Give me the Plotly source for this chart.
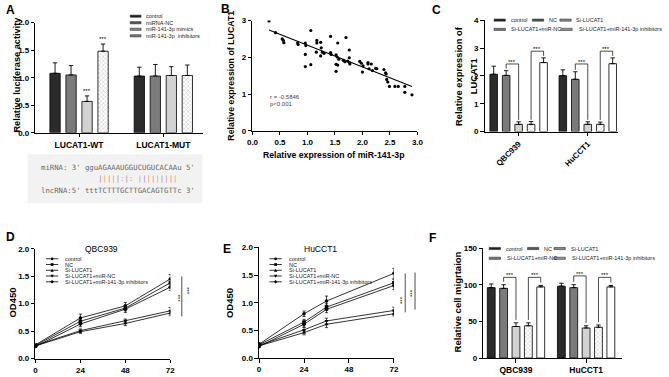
import numpy as np
import plotly.graph_objects as go

W, H = 669, 377
FONT = "Liberation Sans, Arial, sans-serif"
MONO = "DejaVu Sans Mono, Liberation Mono, monospace"

# ---------------- Panel A data ----------------
a_groups = ["LUCAT1-WT", "LUCAT1-MUT"]
a_series = ["control", "miRNA-NC", "miR-141-3p mimics", "miR-141-3p  inhibitors"]
a_control = [1.08, 1.03]
a_control_err = [0.19, 0.16]
a_mirna_nc = [1.05, 1.03]
a_mirna_nc_err = [0.17, 0.21]
a_mimics = [0.57, 1.04]
a_mimics_err = [0.10, 0.16]
a_inhib = [1.48, 1.04]
a_inhib_err = [0.13, 0.19]
a_sig = [["", ""], ["", ""], ["***", ""], ["***", ""]]
a_yticks = [0.0, 0.5, 1.0, 1.5, 2.0]

seq_mirna = "miRNA: 3' gguAGAAAUGGUCUGUCACAAu 5'"
seq_pair = "             |||||:|: |||||||||"
seq_lnc = "lncRNA:5' tttTCTTTGCTTGACAGTGTTc 3'"

# ---------------- Panel B data ----------------
b_x = [0.30, 0.42, 0.54, 0.56, 0.57, 0.82, 0.83, 0.96, 0.97, 0.96,
       0.96, 1.06, 1.06, 1.17, 1.17, 1.16, 1.24, 1.25, 1.27, 1.24,
       1.30, 1.42, 1.42, 1.43, 1.52, 1.54, 1.55, 1.52, 1.55, 1.52,
       1.57, 1.70, 1.65, 1.68, 1.73, 1.76, 1.76, 1.76, 1.77, 1.95,
       1.98, 2.00, 2.01, 2.10, 2.10, 2.12, 2.16, 2.18, 2.24, 2.26,
       2.39, 2.42, 2.43, 2.44, 2.46, 2.49, 2.59, 2.65, 2.77, 2.77, 2.90]
b_y = [2.99, 2.67, 2.50, 2.46, 2.40, 2.39, 2.35, 2.39, 2.32, 2.08,
       1.75, 2.73, 1.80, 2.46, 2.39, 2.14, 2.41, 2.26, 2.14, 2.04,
       2.11, 2.57, 2.13, 2.08, 2.07, 2.01, 2.39, 1.81, 1.79, 1.62,
       1.95, 2.54, 1.92, 1.88, 1.90, 1.86, 2.20, 1.99, 1.82, 1.89,
       1.84, 1.60, 1.77, 1.86, 1.82, 1.69, 1.82, 1.64, 1.70, 1.69,
       1.67, 1.58, 1.55, 1.40, 1.33, 1.21, 1.21, 1.21, 1.21, 1.05, 0.98]
b_stats = ["r = -0.5846", "p<0.001"]
b_xticks = [0.0, 0.5, 1.0, 1.5, 2.0, 2.5, 3.0]
b_yticks = [0, 1, 2, 3]

# ---------------- Panels C-F shared ----------------
cf_series = ["control", "NC", "Si-LUCAT1", "Si-LUCAT1+miR-NC",
             "Si-LUCAT1+miR-141-3p inhibitors"]
cf_groups = ["QBC939", "HuCCT1"]

# ---------------- Panel C data ----------------
c_control = [2.06, 2.01]
c_control_err = [0.29, 0.21]
c_nc = [2.02, 1.88]
c_nc_err = [0.17, 0.27]
c_si = [0.26, 0.26]
c_si_err = [0.09, 0.09]
c_si_nc = [0.26, 0.26]
c_si_nc_err = [0.10, 0.08]
c_si_inh = [2.48, 2.44]
c_si_inh_err = [0.17, 0.21]
c_sig_levels = [[2.43, 2.89], [2.43, 2.89]]
c_yticks = [0, 1, 2, 3, 4]

# ---------------- Panel D data ----------------
d_x = [0, 24, 48, 72]
d_control = [0.25, 0.74, 0.96, 1.45]
d_nc = [0.24, 0.68, 0.92, 1.38]
d_si = [0.23, 0.49, 0.64, 0.83]
d_si_nc = [0.24, 0.51, 0.69, 0.87]
d_si_inh = [0.22, 0.63, 0.90, 1.30]
d_control_err = [0.02, 0.07, 0.06, 0.08]
d_nc_err = [0.02, 0.05, 0.05, 0.06]
d_si_err = [0.02, 0.03, 0.04, 0.05]
d_si_nc_err = [0.02, 0.03, 0.03, 0.06]
d_si_inh_err = [0.02, 0.05, 0.06, 0.06]

# ---------------- Panel E data ----------------
e_x = [0, 24, 36, 72]
e_control = [0.25, 0.80, 1.03, 1.53]
e_nc = [0.24, 0.65, 0.92, 1.36]
e_si = [0.22, 0.46, 0.61, 0.80]
e_si_nc = [0.23, 0.51, 0.67, 0.86]
e_si_inh = [0.21, 0.61, 0.88, 1.31]
e_control_err = [0.03, 0.05, 0.09, 0.09]
e_nc_err = [0.02, 0.05, 0.06, 0.06]
e_si_err = [0.02, 0.04, 0.06, 0.04]
e_si_nc_err = [0.02, 0.04, 0.05, 0.06]
e_si_inh_err = [0.02, 0.05, 0.06, 0.07]
de_xticks = [0, 24, 48, 72]
de_yticks = [0.0, 0.5, 1.0, 1.5, 2.0]

# ---------------- Panel F data ----------------
f_control = [96, 98]
f_control_err = [5, 4]
f_nc = [95, 96]
f_nc_err = [5, 4]
f_si = [43, 41]
f_si_err = [5, 3]
f_si_nc = [44, 42]
f_si_nc_err = [4, 3]
f_si_inh = [97, 97]
f_si_inh_err = [2, 2]
f_sig_levels = [[110, 110], [112, 110]]
f_yticks = [0, 50, 100, 150]

# ================= styling / layout helpers =================
BAR_COLORS = ["#2b2b2b", "#7b7b7b", "#d2d2d2", "white", "white"]
SWATCH_COLORS = ["#1e1e1e", "#555555", "#8a8a8a", "#777777", "#9a9a9a"]
PATTERNS = ["", "", "", "x", ""]
MARKERS = ["circle", "square", "triangle-up", "triangle-down", "diamond"]

fig = go.Figure()
ann, shp = [], []


def dom_x(x0, x1):
    return [x0 / W, x1 / W]


def dom_y(top, bottom):
    return [1 - bottom / H, 1 - top / H]


def text(xp, yp, s, size=8, bold=False, angle=0, xanchor="center",
         yanchor="middle", color="black", family=FONT):
    ann.append(dict(x=xp / W, y=1 - yp / H, xref="paper", yref="paper",
                    text=s, showarrow=False, xanchor=xanchor, yanchor=yanchor,
                    textangle=angle, borderpad=0, borderwidth=0,
                    font=dict(family=family, size=size, color=color,
                              weight="bold" if bold else "normal")))


def pline(x0, y0, x1, y1, color="black", width=1):
    shp.append(dict(type="line", xref="paper", yref="paper",
                    x0=x0 / W, y0=1 - y0 / H, x1=x1 / W, y1=1 - y1 / H,
                    line=dict(color=color, width=width)))


def prect(x0, y0, x1, y1, fill, lw=0.5, lc="black", layer="above"):
    shp.append(dict(type="rect", xref="paper", yref="paper", layer=layer,
                    x0=x0 / W, y0=1 - y1 / H, x1=x1 / W, y1=1 - y0 / H,
                    fillcolor=fill, line=dict(color=lc, width=lw)))


def pmarker(xc, yc, symbol, r=1.6):
    # small legend glyph drawn as a paper-space path
    def P(dx, dy):
        return f"{(xc + dx) / W:.5f},{1 - (yc + dy) / H:.5f}"
    if symbol == "circle":
        shp.append(dict(type="circle", xref="paper", yref="paper",
                        x0=(xc - r) / W, x1=(xc + r) / W,
                        y0=1 - (yc + r) / H, y1=1 - (yc - r) / H,
                        fillcolor="black", line=dict(width=0)))
        return
    pts = {"square": [(-r, -r), (r, -r), (r, r), (-r, r)],
           "triangle-up": [(0, -r * 1.2), (r * 1.2, r), (-r * 1.2, r)],
           "triangle-down": [(0, r * 1.2), (r * 1.2, -r), (-r * 1.2, -r)],
           "diamond": [(0, -r * 1.3), (r * 1.3, 0), (0, r * 1.3), (-r * 1.3, 0)]}[symbol]
    path = "M" + " L".join(P(dx, dy) for dx, dy in pts) + " Z"
    shp.append(dict(type="path", xref="paper", yref="paper", path=path,
                    fillcolor="black", line=dict(width=0)))


def axis(domain, rng, **kw):
    d = dict(domain=domain, range=rng, showline=True, linecolor="black",
             linewidth=1.2, ticks="outside", ticklen=3.5, tickwidth=1.2,
             tickcolor="black", showgrid=False, zeroline=False,
             fixedrange=True,
             tickfont=dict(family=FONT, size=8, color="black", weight="bold"))
    d.update(kw)
    return d


def bar_x(g, i, n, step):
    return g + (i - (n - 1) / 2) * step


def add_bars(series_vals, series_errs, names, xa, ya, step, width):
    n = len(series_vals)
    for i, (vals, errs) in enumerate(zip(series_vals, series_errs)):
        xs = [bar_x(g, i, n, step) for g in range(len(vals))]
        marker = dict(color=BAR_COLORS[i], line=dict(color="black", width=0.8))
        if PATTERNS[i]:
            marker["pattern"] = dict(shape=PATTERNS[i], fgcolor="#9a9a9a",
                                     bgcolor="white", size=3, solidity=0.35)
        fig.add_trace(go.Bar(
            x=xs, y=vals, width=width, name=names[i], marker=marker,
            error_y=dict(type="data", array=errs, arrayminus=[0] * len(errs),
                         symmetric=False, color="black", thickness=0.9,
                         width=2.2),
            xaxis=xa, yaxis=ya, showlegend=False))


def add_brackets(series_vals, series_errs, levels, pairs, xa, ya, step, gap):
    n = len(series_vals)
    for g, glev in enumerate(levels):
        for (i, j), lev in zip(pairs, glev):
            x0, x1 = bar_x(g, i, n, step), bar_x(g, j, n, step)
            y0 = series_vals[i][g] + series_errs[i][g] + gap
            y1 = series_vals[j][g] + series_errs[j][g] + gap
            shp.append(dict(type="path", xref=xa, yref=ya,
                            path=f"M{x0},{y0} L{x0},{lev} L{x1},{lev} L{x1},{y1}",
                            line=dict(color="black", width=0.7)))
            ann.append(dict(x=(x0 + x1) / 2, y=lev, xref=xa, yref=ya,
                            text="***", showarrow=False, yanchor="bottom",
                            yshift=-1, borderpad=0, borderwidth=0,
                            font=dict(family=FONT, size=6, color="black")))


def swatch(xs, yc, k, w=11.5):
    prect(xs, yc - 1.1, xs + w, yc + 1.1, SWATCH_COLORS[k], lw=0.6, lc="#333")


# ================= Panel A =================
A_DOM = (30, 201, 19, 132)
a_vals = [a_control, a_mirna_nc, a_mimics, a_inhib]
a_errs = [a_control_err, a_mirna_nc_err, a_mimics_err, a_inhib_err]
A_UNIT = 85.8
A_STEP = 16.3 / A_UNIT
add_bars(a_vals, a_errs, a_series, "x", "y", A_STEP, 10.5 / A_UNIT)
for i, sigs in enumerate(a_sig):
    for g, s in enumerate(sigs):
        if s:
            ann.append(dict(x=bar_x(g, i, 4, A_STEP), y=a_vals[i][g] + a_errs[i][g],
                            xref="x", yref="y", text=s, showarrow=False,
                            yanchor="bottom", yshift=2, borderpad=0, borderwidth=0,
                            font=dict(family=FONT, size=6, color="black")))
text(11.5, 72, "Relative luciferase activity", size=9.2, bold=True, angle=-90)
text(5, 6, "A", size=12, bold=True)
for k, name in enumerate(a_series):
    yc = 12.5 + k * 6.7
    swatch(126.5, yc, k, w=11)
    text(142.5, yc, name, size=5.5, xanchor="left", color="#222")

# sequence box
prect(22, 154, 200, 204, "#f2f2f2", lw=0, lc="#f2f2f2", layer="below")
NB = "\u00a0"
text(36, 167, seq_mirna.replace(" ", NB), size=7.3, family=MONO,
     xanchor="left", color="#6a6a6a")
pipe_cols = ["#d6a23c", "#b07cc0"]
pair_html = "".join(
    f'<span style="color:{pipe_cols[k % 2]}">{c}</span>' if c in "|:" else NB
    for k, c in enumerate(seq_pair))
text(36, 179, pair_html, size=7.3, family=MONO, xanchor="left")
text(36, 191, seq_lnc.replace(" ", NB), size=7.3, family=MONO,
     xanchor="left", color="#6a6a6a")

# ================= Panel B =================
B_DOM = (251, 419, 17, 130)
fig.add_trace(go.Scatter(x=b_x, y=b_y, mode="markers", xaxis="x2", yaxis="y2",
                         marker=dict(color="black", size=3.2), showlegend=False))
slope, icpt = np.polyfit(b_x, b_y, 1)
lx = np.array([min(b_x), max(b_x)])
fig.add_trace(go.Scatter(x=lx, y=slope * lx + icpt, mode="lines", xaxis="x2",
                         yaxis="y2", line=dict(color="black", width=1.1),
                         showlegend=False))
text(229.5, 73, "Relative expression of LUCAT1", size=8.8, bold=True, angle=-90)
text(333.5, 155, "Relative expression of miR-141-3p", size=8.7, bold=True)
text(269, 95, b_stats[0], size=6, xanchor="left", color="#444")
text(269, 102.5, b_stats[1], size=6, xanchor="left", color="#444")
text(224, 5, "B", size=12, bold=True)

# ================= Panel C =================
C_DOM = (487.5, 623, 16.7, 130.7)
C_UNIT = 70.4
C_STEP = 12.7 / C_UNIT
c_vals = [c_control, c_nc, c_si, c_si_nc, c_si_inh]
c_errs = [c_control_err, c_nc_err, c_si_err, c_si_nc_err, c_si_inh_err]
add_bars(c_vals, c_errs, cf_series, "x3", "y3", C_STEP, 7.7 / C_UNIT)
add_brackets(c_vals, c_errs, c_sig_levels, [(1, 2), (3, 4)], "x3", "y3",
             C_STEP, 0.07)
text(462, 74, "Relative expression of", size=9.3, bold=True, angle=-90)
text(476.5, 74, "LUCAT1", size=9.3, bold=True, angle=-90)
text(438, 6, "C", size=12, bold=True)


def cf_legend(rows):
    # rows: list of (y, [(swatch_x, text_x, series_index), ...])
    for yc, items in rows:
        for xs, xt, k in items:
            swatch(xs, yc, k)
            text(xt, yc, cf_series[k], size=5.5, xanchor="left", color="#222")


cf_legend([(16.5, [(497, 514.5, 0), (536, 552.5, 1), (564, 580, 2)]),
           (26, [(497, 514.5, 3), (565, 583, 4)])])

# ================= Panels D / E =================
d_vals = [d_control, d_nc, d_si, d_si_nc, d_si_inh]
d_errs = [d_control_err, d_nc_err, d_si_err, d_si_nc_err, d_si_inh_err]
e_vals = [e_control, e_nc, e_si, e_si_nc, e_si_inh]
e_errs = [e_control_err, e_nc_err, e_si_err, e_si_nc_err, e_si_inh_err]
for xs_, vals_, errs_, xa, ya in [(d_x, d_vals, d_errs, "x4", "y4"),
                                   (e_x, e_vals, e_errs, "x5", "y5")]:
    for k, (v, e) in enumerate(zip(vals_, errs_)):
        fig.add_trace(go.Scatter(
            x=xs_, y=v, mode="lines+markers", name=cf_series[k],
            xaxis=xa, yaxis=ya, showlegend=False,
            line=dict(color="black", width=0.8),
            marker=dict(symbol=MARKERS[k], size=3.5, color="black"),
            error_y=dict(type="data", array=e, color="black", thickness=0.7,
                         width=1.6)))

D_DOM = (30, 167.3, 250.7, 363.3)
E_DOM = (257.7, 395, 249.3, 362.7)
for (x0, title, tx, lx0, letter, lxy) in [(40.7, "QBC939", 97, 7, "D", (5, 239)),
                                          (268.3, "HuCCT1", 320, 227.5, "E", (225, 251))]:
    for k, name in enumerate(cf_series):
        yc = 261 + k * 5.9
        pline(x0, yc, x0 + 12.5, yc, width=0.8)
        pmarker(x0 + 6.25, yc, MARKERS[k], r=1.4)
        text(x0 + 19.5, yc, name, size=5.5, xanchor="left", color="#222")
    text(tx, 251, title, size=8.5)
    text(lx0, 306, "OD450", size=9.5, bold=True, angle=-90)
    text(lxy[0], lxy[1], letter, size=12, bold=True)

# significance marks to the right of D / E
pline(179, 279, 179, 320, width=0.7)
text(177, 301, "***", size=6, angle=-90)
text(186.5, 293, "***", size=6, angle=-90)
pline(406.5, 276, 406.5, 316, width=0.7)
pline(416.5, 275, 416.5, 313, width=0.7)
text(403.5, 303, "***", size=6, angle=-90)
text(413.5, 296, "***", size=6, angle=-90)

# ================= Panel F =================
F_DOM = (486, 627, 250, 362.7)
F_UNIT = 71.4
F_STEP = 12.6 / F_UNIT
f_vals = [f_control, f_nc, f_si, f_si_nc, f_si_inh]
f_errs = [f_control_err, f_nc_err, f_si_err, f_si_nc_err, f_si_inh_err]
add_bars(f_vals, f_errs, cf_series, "x6", "y6", F_STEP, 8 / F_UNIT)
add_brackets(f_vals, f_errs, f_sig_levels, [(1, 2), (3, 4)], "x6", "y6",
             F_STEP, 4)
text(460, 305, "Relative cell migrtaion", size=9.5, bold=True, angle=-90)
text(434, 240, "F", size=12, bold=True)
cf_legend([(250.5, [(492, 509.5, 0), (531, 548, 1), (558, 575, 2)]),
           (260.5, [(492, 510, 3), (558, 576, 4)])])


# ================= axes =================
def rng_cat(dom, c0, unit):
    return [-(c0 - dom[0]) / unit, -(c0 - dom[0]) / unit + (dom[1] - dom[0]) / unit]


lay = dict(
    xaxis=axis(dom_x(A_DOM[0], A_DOM[1]), rng_cat(A_DOM, 74.4, A_UNIT),
               anchor="y", tickvals=[0, 1], ticktext=a_groups,
               tickfont=dict(family=FONT, size=8.5, color="black", weight="bold")),
    yaxis=axis(dom_y(A_DOM[2], A_DOM[3]), [0, 2.0], anchor="x",
               tickvals=a_yticks, tickformat=".1f"),
    xaxis2=axis(dom_x(B_DOM[0], B_DOM[1]), [0, 3.0], anchor="y2",
                tickvals=b_xticks, tickformat=".1f"),
    yaxis2=axis(dom_y(B_DOM[2], B_DOM[3]), [0, 3.0], anchor="x2",
                tickvals=b_yticks),
    xaxis3=axis(dom_x(C_DOM[0], C_DOM[1]), rng_cat(C_DOM, 522, C_UNIT),
                anchor="y3", tickvals=[0, 1], ticktext=cf_groups, tickangle=-45),
    yaxis3=axis(dom_y(C_DOM[2], C_DOM[3]), [0, 4], anchor="x3",
                tickvals=c_yticks),
    xaxis4=axis(dom_x(D_DOM[0], D_DOM[1]), [0, 72], anchor="y4",
                tickvals=de_xticks),
    yaxis4=axis(dom_y(D_DOM[2], D_DOM[3]), [0, 2.0], anchor="x4",
                tickvals=de_yticks, tickformat=".1f"),
    xaxis5=axis(dom_x(E_DOM[0], E_DOM[1]), [0, 72], anchor="y5",
                tickvals=de_xticks),
    yaxis5=axis(dom_y(E_DOM[2], E_DOM[3]), [0, 2.0], anchor="x5",
                tickvals=de_yticks, tickformat=".1f"),
    xaxis6=axis(dom_x(F_DOM[0], F_DOM[1]), rng_cat(F_DOM, 519.3, F_UNIT),
                anchor="y6", tickvals=[0, 1], ticktext=cf_groups,
                tickfont=dict(family=FONT, size=8.5, color="black", weight="bold")),
    yaxis6=axis(dom_y(F_DOM[2], F_DOM[3]), [0, 150], anchor="x6",
                tickvals=f_yticks),
)

fig.update_layout(
    width=W, height=H, margin=dict(l=0, r=0, t=0, b=0),
    paper_bgcolor="white", plot_bgcolor="rgba(0,0,0,0)",
    barmode="overlay", showlegend=False,
    annotations=ann, shapes=shp, **lay)

fig.write_html("out.html")
